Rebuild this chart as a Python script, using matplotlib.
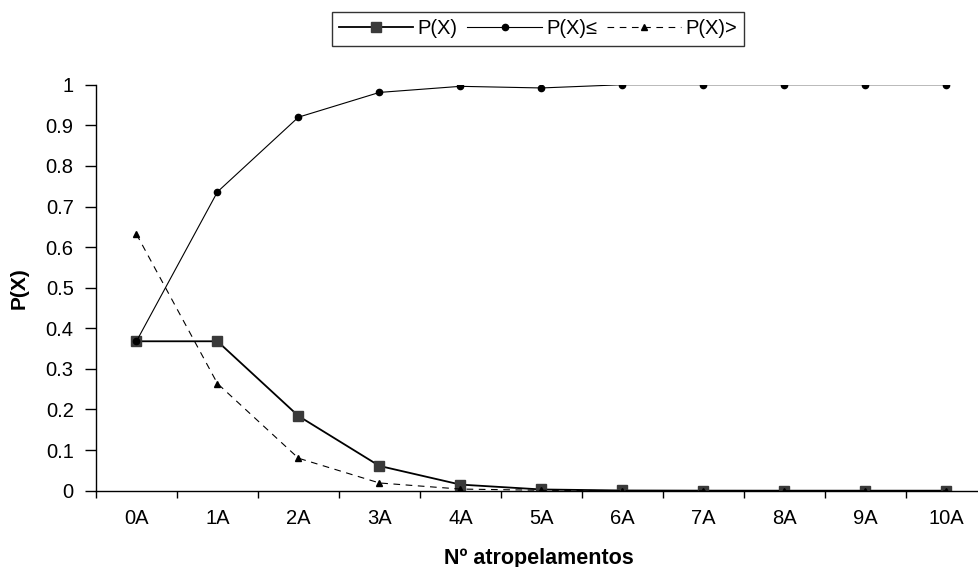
import numpy as np
import matplotlib
matplotlib.use("Agg")
import matplotlib.pyplot as plt
from matplotlib.ticker import FixedLocator, FuncFormatter

plt.rcParams['font.family'] = ['Liberation Sans', 'DejaVu Sans']

categorias = ['0A', '1A', '2A', '3A', '4A', '5A', '6A', '7A', '8A', '9A', '10A']
p_x = [0.368, 0.368, 0.184, 0.061, 0.015, 0.003, 0.0005, 0.0001, 0.0, 0.0, 0.0]
p_menor_igual = [0.368, 0.736, 0.920, 0.981, 0.996, 0.992, 1.0, 1.0, 1.0, 1.0, 1.0]
p_maior = [0.632, 0.264, 0.080, 0.019, 0.004, 0.001, 0.0001, 0.0, 0.0, 0.0, 0.0]

x = np.arange(len(categorias))

fig = plt.figure(figsize=(9.79, 5.67), dpi=100)
ax = fig.add_axes([0.098, 0.1346, 0.91, 0.716])

ax.plot(x, p_x, color='black', lw=1.3, marker='s', markersize=6.5,
        markerfacecolor='#3a3a3a', markeredgecolor='#3a3a3a', label='P(X)')
ax.plot(x, p_menor_igual, color='black', lw=0.8, marker='o', markersize=4.5,
        markerfacecolor='black', markeredgecolor='black', label='P(X)≤')
ax.plot(x, p_maior, color='black', lw=0.8, ls=(0, (6, 5)), marker='^', markersize=5,
        markerfacecolor='black', markeredgecolor='black', label='P(X)>')

ax.set_xlim(-0.5, len(categorias) - 0.5)
ax.set_ylim(0, 1)
ax.set_yticks(np.arange(0, 1.01, 0.1))
ax.yaxis.set_major_formatter(FuncFormatter(lambda v, p: f"{v:g}"))

ax.set_xticks(x)
ax.set_xticklabels(categorias)
ax.xaxis.set_minor_locator(FixedLocator(np.arange(-0.5, len(categorias), 1.0)))
ax.tick_params(axis='x', which='major', length=0, pad=13, labelsize=14.5)
ax.tick_params(axis='x', which='minor', length=5, width=1, direction='out')
ax.tick_params(axis='y', length=8, width=1, direction='out', pad=8, labelsize=14.5)

for s in ['top', 'right']:
    ax.spines[s].set_visible(False)
for s in ['left', 'bottom']:
    ax.spines[s].set_linewidth(1)

ax.set_xlabel('Nº atropelamentos', fontsize=15.5, fontweight='bold')
ax.set_ylabel('P(X)', fontsize=15, fontweight='bold')
ax.xaxis.set_label_coords(0.497, -0.14)
ax.yaxis.set_label_coords(-0.076, 0.5)

leg = fig.legend(loc='center', bbox_to_anchor=(538 / 979, 1 - 29 / 567), ncol=3,
                 fontsize=14.5, frameon=True, fancybox=False, edgecolor='black',
                 handlelength=3.7, handletextpad=0.2, columnspacing=0.5,
                 borderpad=0.35, borderaxespad=0)
leg.get_frame().set_linewidth(1)

fig.savefig('out.png', dpi=100)
